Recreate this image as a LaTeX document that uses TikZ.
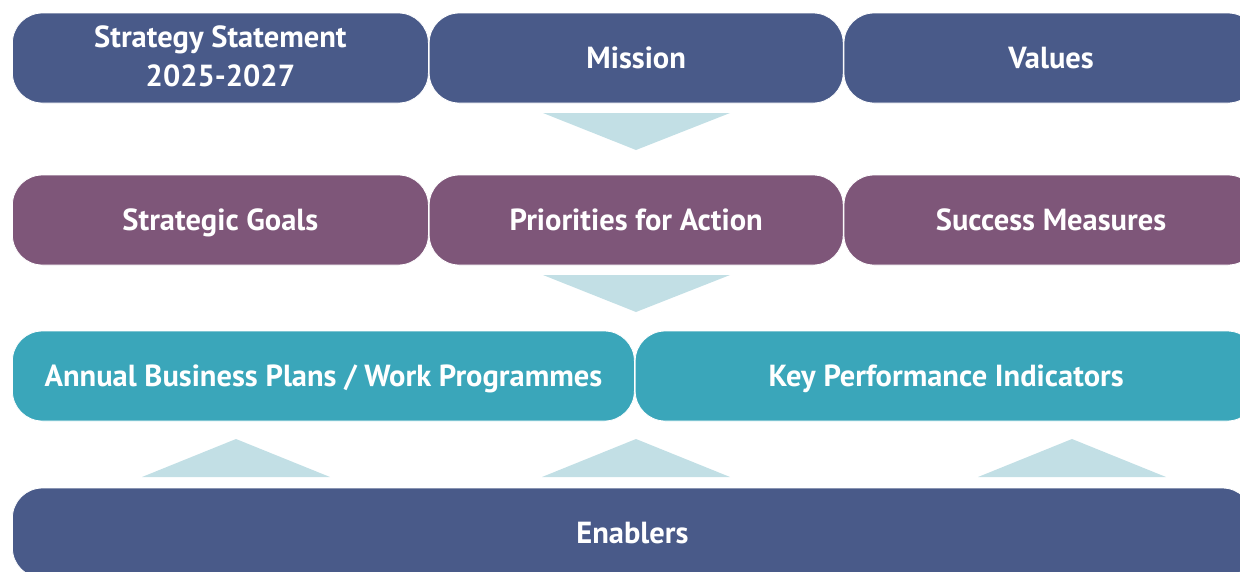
\documentclass[tikz,border=0pt]{standalone}
\usepackage{fontspec}
\setmainfont{PT Sans}
\usetikzlibrary{positioning}
\definecolor{navy}{HTML}{495A89}
\definecolor{plum}{HTML}{7E5679}
\definecolor{teal}{HTML}{3AA6BA}
\definecolor{pale}{HTML}{C2DFE5}
\tikzstyle{band} = [rectangle, rounded corners=30pt, draw=white, line width=0.8pt, minimum height=90pt, inner sep=0pt, text=white, align=center, font=\fontsize{30.5}{39}\selectfont\bfseries, text height=25pt, text depth=3.7pt]
\tikzstyle{pointer} = [fill=pale]

\begin{document}
\begin{tikzpicture}[x=1pt, y=-1pt]

\useasboundingbox (0,0) rectangle (1240,571);
\clip (0,0) rectangle (1240,571);

% top row
\node [band, fill=navy, minimum width=416pt, anchor=west, text height={}, text depth={}, execute at begin node={\rule[-0.12em]{0pt}{0.82em}}] (statement) at (12,58) {Strategy Statement\\2025-2027};
\node [band, fill=navy, minimum width=414pt, right=0pt of statement] (mission) {Mission};
\node [band, fill=navy, minimum width=414pt, right=0pt of mission] (values) {Values};

% second row
\node [band, fill=plum, minimum width=416pt, anchor=west] (goals) at (12,220) {Strategic Goals};
\node [band, fill=plum, minimum width=414pt, right=0pt of goals] (priorities) {Priorities for Action};
\node [band, fill=plum, minimum width=414pt, right=0pt of priorities] (measures) {Success Measures};

% third row
\node [band, fill=teal, minimum width=622pt, anchor=west] (plans) at (12,376) {Annual Business Plans / Work Programmes};
\node [band, fill=teal, minimum width=622pt, right=0pt of plans] (kpi) {Key Performance Indicators};

% bottom
\node [band, fill=navy, minimum width=1240pt, anchor=west] (enablers) at (12,533) {Enablers};

% pointers
\fill [pointer] (543,113) -- (730,113) -- (636,150) -- cycle;
\fill [pointer] (543,275) -- (730,275) -- (636,312) -- cycle;
\foreach \cx in {236,636,1072}
  \fill [pointer] (\cx-94,477) -- (\cx+94,477) -- (\cx,439) -- cycle;

\end{tikzpicture}
\end{document}
